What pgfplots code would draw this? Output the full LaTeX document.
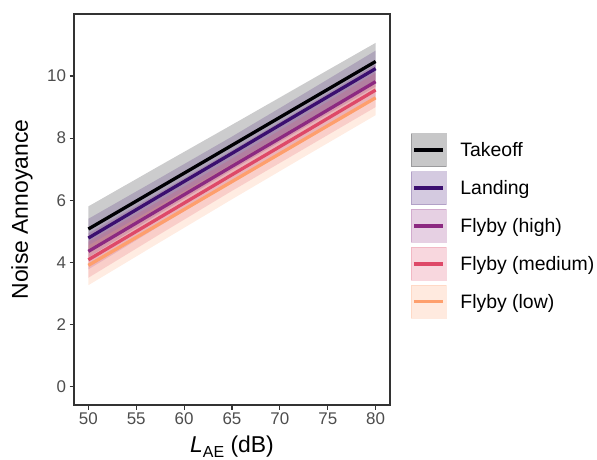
\documentclass[border=0pt]{standalone}
\usepackage{fontspec}
\setmainfont{Liberation Sans}
\usepackage{pgfplots}
\pgfplotsset{compat=1.18}
\usepackage{pgfplotstable}
\usepgfplotslibrary{fillbetween}
\definecolor{cT}{HTML}{000004}
\definecolor{cL}{HTML}{3B0F70}
\definecolor{cH}{HTML}{8C2981}
\definecolor{cM}{HTML}{DE4968}
\definecolor{cW}{HTML}{FE9F6D}
\definecolor{axgray}{HTML}{333333}
\definecolor{tickgray}{HTML}{4D4D4D}

\pgfplotstableread{
x y lo hi
50 5.07 4.34 5.80
57.5 6.42 5.72 7.12
65 7.77 7.11 8.43
72.5 9.12 8.49 9.75
80 10.47 9.87 11.07
}\takeoff
\pgfplotstableread{
x y lo hi
50 4.78 4.16 5.40
57.5 6.15 5.58 6.72
65 7.51 6.97 8.05
72.5 8.88 8.33 9.43
80 10.24 9.66 10.82
}\landing
\pgfplotstableread{
x y lo hi
50 4.35 3.77 4.93
57.5 5.72 5.18 6.26
65 7.09 6.57 7.61
72.5 8.45 7.92 8.98
80 9.82 9.27 10.37
}\high
\pgfplotstableread{
x y lo hi
50 4.08 3.50 4.66
57.5 5.45 4.91 5.99
65 6.82 6.30 7.34
72.5 8.18 7.65 8.71
80 9.55 9.00 10.10
}\medium
\pgfplotstableread{
x y lo hi
50 3.90 3.26 4.54
57.5 5.25 4.65 5.85
65 6.60 6.03 7.17
72.5 7.95 7.39 8.51
80 9.30 8.74 9.86
}\low

\pgfplotsset{lkey/.style={legend image code/.code={%
  \fill[#1, opacity=0.22] (0bp,-16.5bp) rectangle (35bp,16.5bp);
  \draw[#1, line width=3.5bp] (3bp,0bp) -- (32bp,0bp);}}}

\begin{document}
\begin{tikzpicture}
\begin{axis}[
  at={(0,0)}, anchor=south west,
  width=316bp, height=391bp, scale only axis,
  xmin=48.5, xmax=81.5, ymin=-0.6, ymax=12.0,
  xtick={50,55,...,80}, ytick={0,2,...,10},
  xtick pos=bottom, ytick pos=left,
  tick align=outside, major tick length=4.5bp,
  tick style={color=axgray, line width=1.2bp},
  axis line style={color=axgray, line width=1.2bp},
  /pgf/number format/assume math mode=true,
  tick label style={font=\fontsize{17}{20}\selectfont, color=tickgray},
  ylabel={Noise Annoyance},
  ylabel style={font=\fontsize{23}{26}\selectfont, at={(axis description cs:-0.165,0.5)}, anchor=center},
  xlabel={\textit{L}\raisebox{-0.25em}{\fontsize{16}{16}\selectfont AE} (dB)},
  xlabel style={font=\fontsize{23}{26}\selectfont, at={(axis description cs:0.5,0)}, anchor=base, yshift=-47bp},
  legend style={draw=none, fill=none, inner sep=0pt, outer sep=0pt,
    at={(rel axis cs:1.0665,0.458)}, anchor=west,
    font=\fontsize{19.5}{22}\selectfont, row sep=4.5bp,
    /tikz/every odd column/.append style={column sep=12bp}},
  legend cell align=left,
]
\addplot[draw=none, name path=tU, forget plot] table[x=x,y=hi]{\takeoff};
\addplot[draw=none, name path=tD, forget plot] table[x=x,y=lo]{\takeoff};
\addplot[cT, opacity=0.2, forget plot] fill between[of=tU and tD];
\addplot[draw=none, name path=lU, forget plot] table[x=x,y=hi]{\landing};
\addplot[draw=none, name path=lD, forget plot] table[x=x,y=lo]{\landing};
\addplot[cL, opacity=0.2, forget plot] fill between[of=lU and lD];
\addplot[draw=none, name path=hU, forget plot] table[x=x,y=hi]{\high};
\addplot[draw=none, name path=hD, forget plot] table[x=x,y=lo]{\high};
\addplot[cH, opacity=0.2, forget plot] fill between[of=hU and hD];
\addplot[draw=none, name path=mU, forget plot] table[x=x,y=hi]{\medium};
\addplot[draw=none, name path=mD, forget plot] table[x=x,y=lo]{\medium};
\addplot[cM, opacity=0.2, forget plot] fill between[of=mU and mD];
\addplot[draw=none, name path=wU, forget plot] table[x=x,y=hi]{\low};
\addplot[draw=none, name path=wD, forget plot] table[x=x,y=lo]{\low};
\addplot[cW, opacity=0.2, forget plot] fill between[of=wU and wD];
\addplot[cW, line width=3.3bp, forget plot] table[x=x,y=y]{\low};
\addplot[cM, line width=3.3bp, forget plot] table[x=x,y=y]{\medium};
\addplot[cH, line width=3.3bp, forget plot] table[x=x,y=y]{\high};
\addplot[cL, line width=3.3bp, forget plot] table[x=x,y=y]{\landing};
\addplot[cT, line width=3.3bp, forget plot] table[x=x,y=y]{\takeoff};
\addlegendimage{lkey=cT}\addlegendentry{Takeoff}
\addlegendimage{lkey=cL}\addlegendentry{Landing}
\addlegendimage{lkey=cH}\addlegendentry{Flyby (high)}
\addlegendimage{lkey=cM}\addlegendentry{Flyby (medium)}
\addlegendimage{lkey=cW}\addlegendentry{Flyby (low)}
\end{axis}
\pgfresetboundingbox
\path[use as bounding box] (-74bp,-55bp) rectangle (523bp,405bp);
\end{tikzpicture}
\end{document}
